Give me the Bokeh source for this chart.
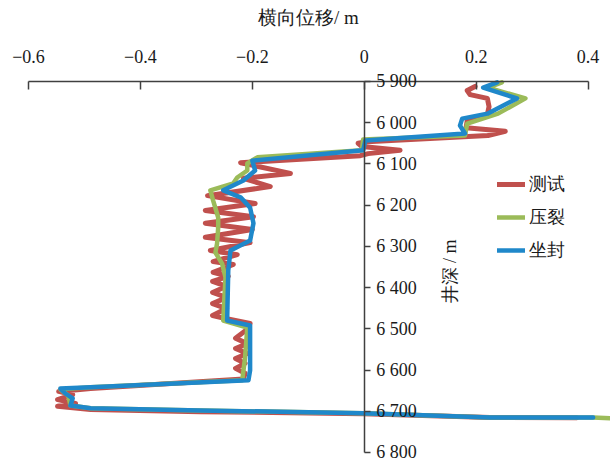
import math
from bokeh.plotting import figure
from bokeh.models import (Range1d, LinearAxis, FixedTicker, Legend, LegendItem, Label)
from bokeh.embed import file_html
from bokeh.resources import INLINE

# ---- data (x = lateral displacement / m, depth = well depth / m) ----
test_x = [0.198, 0.184, 0.189, 0.220, 0.223, 0.220, 0.184, 0.182, 0.252, 0.221,
          0.005, -0.011, -0.004, 0.064, 0.007, -0.007, -0.221, -0.132, -0.216, -0.168,
          -0.280, -0.195, -0.284, -0.198, -0.284, -0.200, -0.284, -0.204, -0.275, -0.227,
          -0.270, -0.234, -0.270, -0.243, -0.271, -0.246, -0.271, -0.246, -0.271, -0.246,
          -0.271, -0.248, -0.204, -0.207, -0.230, -0.209, -0.230, -0.209, -0.230, -0.213,
          -0.230, -0.213, -0.216, -0.489, -0.546, -0.521, -0.548, -0.516, -0.548, -0.489,
          -0.293, -0.002, 0.225, 0.380]
test_d = [5912, 5922, 5932, 5941, 5961, 5980, 5995, 6012, 6021, 6031,
          6046, 6050, 6058, 6067, 6075, 6080, 6097, 6123, 6135, 6155,
          6177, 6196, 6213, 6228, 6244, 6259, 6278, 6291, 6310, 6320,
          6337, 6344, 6363, 6373, 6385, 6397, 6412, 6424, 6439, 6451,
          6468, 6475, 6487, 6499, 6523, 6536, 6548, 6560, 6572, 6584,
          6596, 6608, 6622, 6645, 6652, 6660, 6672, 6681, 6688, 6696,
          6701, 6706, 6715, 6716]

frac_x = [0.246, 0.221, 0.288, 0.239, 0.184, 0.180, -0.002, -0.004, -0.191, -0.209,
          -0.209, -0.227, -0.234, -0.275, -0.270, -0.261, -0.261, -0.263, -0.266, -0.254,
          -0.248, -0.252, -0.209, -0.213, -0.218, -0.489, -0.543, -0.529, -0.525, -0.489,
          -0.293, -0.002, 0.225, 0.409, 0.460]
frac_d = [5902, 5915, 5941, 5978, 6002, 6031, 6041, 6067, 6084, 6099,
          6116, 6133, 6147, 6164, 6189, 6230, 6254, 6293, 6315, 6342,
          6375, 6480, 6497, 6570, 6625, 6642, 6647, 6662, 6686, 6693,
          6698, 6705, 6715, 6715, 6718]

seal_x = [0.2375, 0.2125, 0.273, 0.220, 0.175, 0.171, 0.180, 0.002, -0.002, -0.200,
          -0.195, -0.216, -0.252, -0.221, -0.204, -0.198, -0.204, -0.239, -0.243, -0.245,
          -0.204, -0.204, -0.207, -0.489, -0.543, -0.534, -0.521, -0.525, -0.489, -0.293,
          -0.002, 0.225, 0.409]
seal_d = [5902, 5915, 5941, 5978, 5990, 6007, 6026, 6043, 6067, 6092,
          6116, 6140, 6164, 6181, 6206, 6244, 6286, 6310, 6358, 6480,
          6492, 6601, 6625, 6642, 6645, 6657, 6669, 6686, 6693, 6698,
          6705, 6715, 6715]

series_names = ["测试", "压裂", "坐封"]
x_ticks = [-0.6, -0.4, -0.2, 0, 0.2, 0.4]
x_tick_labels = ["\u22120.6", "\u22120.4", "\u22120.2", "0", "0.2", "0.4"]
y_ticks = [5900, 6000, 6100, 6200, 6300, 6400, 6500, 6600, 6700, 6800]
y_tick_labels = ["5 900", "6 000", "6 100", "6 200", "6 300", "6 400",
                 "6 500", "6 600", "6 700", "6 800"]
x_title = "横向位移/ m"
y_title = "井深 / m"

FONT = "Liberation Serif"
AX = "#404040"

p = figure(width=610, height=461, output_backend="svg", toolbar_location=None,
           x_range=Range1d(-0.65, 0.44), y_range=Range1d(6822, 5703.5),
           x_axis_location=None, y_axis_location=None,
           min_border_left=0, min_border_right=0, min_border_top=0,
           min_border_bottom=0)
p.outline_line_color = None
p.grid.visible = False
p.background_fill_color = "white"

# top x axis, drawn at depth 5900
xa = LinearAxis(ticker=FixedTicker(ticks=x_ticks), bounds=(-0.6, 0.4), fixed_location=5900)
xa.major_label_overrides = {t: l for t, l in zip(x_ticks, x_tick_labels)}
xa.minor_tick_line_color = None
xa.major_tick_in = 8
xa.major_tick_out = 0
xa.major_label_standoff = 18
xa.axis_label = x_title
xa.axis_label_standoff = 20
xa.axis_label_text_font = FONT
xa.axis_label_text_font_style = "normal"
xa.axis_label_text_font_size = "19px"
xa.axis_label_text_color = "#1a1a1a"
xa.major_label_text_font = FONT
xa.major_label_text_font_size = "18px"
xa.major_label_text_color = "#1a1a1a"
xa.axis_line_color = AX
xa.axis_line_width = 1.5
xa.major_tick_line_color = AX
xa.major_tick_line_width = 1.5
p.add_layout(xa, "above")

# y axis drawn at x = 0
ya = LinearAxis(ticker=FixedTicker(ticks=y_ticks), bounds=(5900, 6800), fixed_location=0)
ya.major_label_overrides = {t: l for t, l in zip(y_ticks, y_tick_labels)}
ya.minor_tick_line_color = None
ya.major_tick_in = 0
ya.major_tick_out = 6
ya.major_label_standoff = 6
ya.major_label_text_font = FONT
ya.major_label_text_font_size = "18px"
ya.major_label_text_color = "#1a1a1a"
ya.axis_line_color = AX
ya.axis_line_width = 1.5
ya.major_tick_line_color = AX
ya.major_tick_line_width = 1.5
p.add_layout(ya, "right")

r1 = p.line(test_x, test_d, line_color="#C0504D", line_width=5, line_join="round", line_cap="round")
r2 = p.line(frac_x, frac_d, line_color="#9BBB59", line_width=4.5, line_join="round", line_cap="round")
r3 = p.line(seal_x, seal_d, line_color="#1F88CA", line_width=4.5, line_join="round", line_cap="round")

legend = Legend(items=[LegendItem(label=series_names[0], renderers=[r1]),
                       LegendItem(label=series_names[1], renderers=[r2]),
                       LegendItem(label=series_names[2], renderers=[r3])],
                location=(497, 199), orientation="vertical",
                glyph_width=28, glyph_height=20, label_height=20, spacing=9,
                label_standoff=4, padding=0, margin=0,
                border_line_color=None, background_fill_alpha=0,
                label_text_font=FONT, label_text_font_size="18px",
                label_text_color="#1a1a1a")
p.add_layout(legend, "center")

p.add_layout(Label(x=0.153, y=6361, text=y_title, angle=math.pi / 2,
                   text_align="center", text_baseline="middle",
                   text_font=FONT, text_font_size="18px", text_color="#1a1a1a"))

open("out.html", "w").write(file_html(p, INLINE))
